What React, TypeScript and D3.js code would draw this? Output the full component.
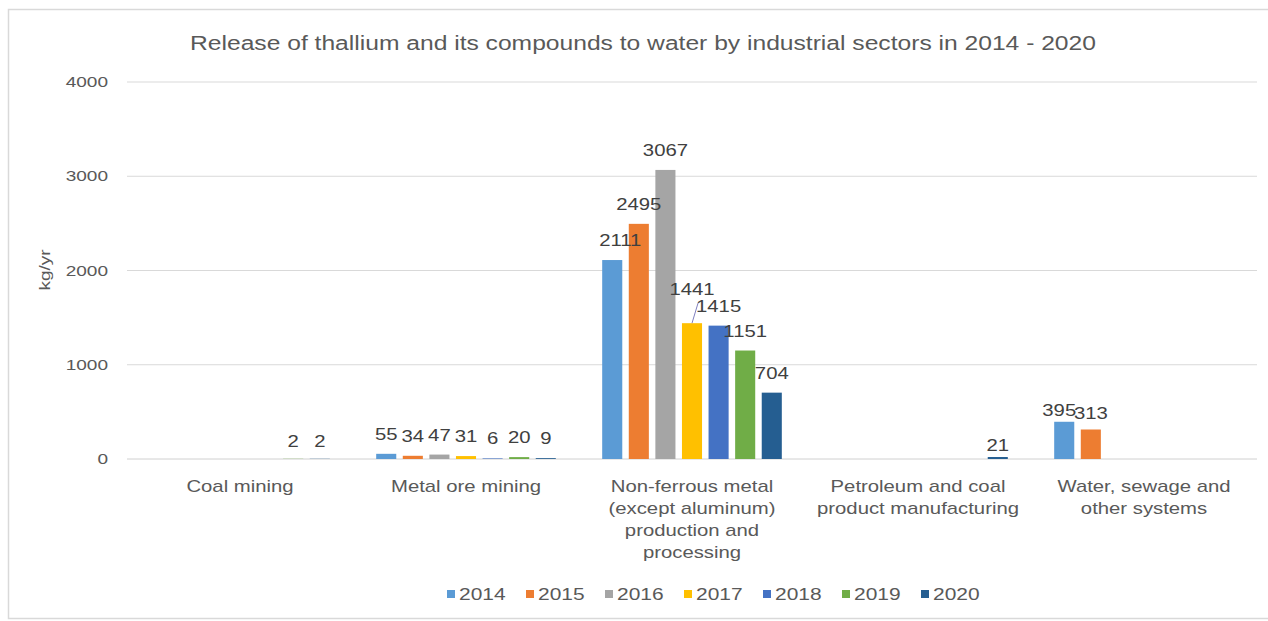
import React from "react";
import * as d3 from "d3";

const categories = [
  "Coal mining",
  "Metal ore mining",
  "Non-ferrous metal (except aluminum) production and processing",
  "Petroleum and coal product manufacturing",
  "Water, sewage and other systems",
];
const categoryLines = [
  ["Coal mining"],
  ["Metal ore mining"],
  ["Non-ferrous metal", "(except aluminum)", "production and", "processing"],
  ["Petroleum and coal", "product manufacturing"],
  ["Water, sewage and", "other systems"],
];
const years = ["2014", "2015", "2016", "2017", "2018", "2019", "2020"];
const v2014 = [null, 55, 2111, null, 395];
const v2015 = [null, 34, 2495, null, 313];
const v2016 = [null, 47, 3067, null, null];
const v2017 = [null, 31, 1441, null, null];
const v2018 = [null, 6, 1415, null, null];
const v2019 = [2, 20, 1151, null, null];
const v2020 = [2, 9, 704, 21, null];
const seriesValues = [v2014, v2015, v2016, v2017, v2018, v2019, v2020];
const colors = ["#5B9BD5", "#ED7D31", "#A5A5A5", "#FFC000", "#4472C4", "#70AD47", "#255E91"];
const yTicks = [0, 1000, 2000, 3000, 4000];
const title = "Release of thallium and its compounds to water by industrial sectors in 2014 - 2020";

// label nudges (category index|year index) : [dx, dy]
const nudges: Record<string, [number, number]> = {
  "2|0": [8, 0],
  "2|3": [0, -14],
  "4|0": [-5, 8],
  "4|1": [0, 4],
  "3|6": [0, 8],
  "0|5": [0, 2],
  "0|6": [0, 2],
};

const SX = 1.27;
const FONT = "'Liberation Sans', Arial, sans-serif";
const TXT = "#595959";

function T({ x, y, size, anchor = "middle", fill = TXT, children, rotate = 0 }: any) {
  const tr = rotate
    ? `translate(${x},${y}) rotate(${rotate}) scale(${SX},1)`
    : `translate(${x},${y}) scale(${SX},1)`;
  return (
    <g transform={tr}>
      <text x={0} y={0} fontSize={size} fontFamily={FONT} fill={fill} textAnchor={anchor}>
        {children}
      </text>
    </g>
  );
}

export default function App() {
  const W = 1268, H = 621;
  const x0 = d3.scaleBand<string>().domain(categories).range([127, 1257]).padding(0);
  const x1 = d3.scaleBand<string>().domain(years).range([-93, 93]).paddingInner(0.245).paddingOuter(0.12);
  const y = d3.scaleLinear().domain([0, 4000]).range([459, 82]);
  const bw = x1.bandwidth();

  const bars: any[] = [];
  const labels: any[] = [];
  let leader: any = null;
  categories.forEach((c, ci) => {
    const cx = (x0(c) as number) + x0.bandwidth() / 2;
    years.forEach((yr, yi) => {
      const v = seriesValues[yi][ci];
      if (v == null) return;
      const bx = cx + (x1(yr) as number);
      const top = y(v);
      bars.push(
        <rect key={`b${ci}-${yi}`} x={bx} y={top} width={bw} height={y(0) - top} fill={colors[yi]} />
      );
      const [dx, dy] = nudges[`${ci}|${yi}`] || [0, 0];
      labels.push(
        <T key={`l${ci}-${yi}`} x={bx + bw / 2 + dx} y={top - 14 + dy} size={16} fill="#404040">
          {String(v)}
        </T>
      );
      if (ci === 2 && yi === 3) {
        leader = (
          <line x1={bx + bw / 2} y1={top} x2={bx + bw / 2 + 6} y2={top - 20} stroke="#7f7fbf" strokeWidth={1} />
        );
      }
    });
  });

  return (
    <svg width={W} height={H} style={{ position: "absolute", left: 0, top: 0, background: "#fff" }}>
      <rect x={8.5} y={9.5} width={1270} height={609} fill="#fff" stroke="#d9d9d9" strokeWidth={1.5} />
      <T x={643} y={50} size={19.4}>{title}</T>
      {yTicks.map((t) => (
        <g key={t}>
          <line x1={127} x2={1257} y1={y(t)} y2={y(t)} stroke={t === 0 ? "#d0d0d0" : "#d9d9d9"} strokeWidth={1} />
          <T x={108} y={y(t) + 5} size={15} anchor="end">{String(t)}</T>
        </g>
      ))}
      <T x={50} y={270} size={15} rotate={-90}>kg/yr</T>
      {bars}
      {leader}
      {labels}
      {categories.map((c, ci) => {
        const cx = (x0(c) as number) + x0.bandwidth() / 2;
        return categoryLines[ci].map((ln, li) => (
          <T key={`c${ci}-${li}`} x={cx} y={492 + li * 22} size={16}>{ln}</T>
        ));
      })}
      {years.map((yr, yi) => {
        const lx = 447 + yi * 79;
        return (
          <g key={yr}>
            <rect x={lx} y={590} width={8} height={8} fill={colors[yi]} />
            <T x={lx + 12} y={600} size={16.5} anchor="start">{yr}</T>
          </g>
        );
      })}
    </svg>
  );
}
